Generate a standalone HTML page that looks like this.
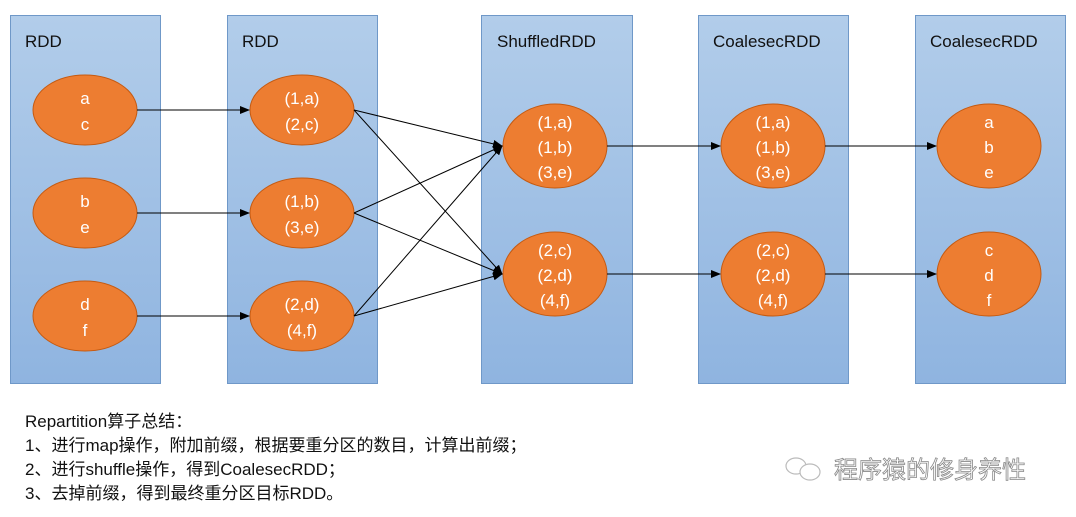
<!DOCTYPE html><html><head><meta charset="utf-8"><style>
body{margin:0;width:1076px;height:517px;background:#fff;overflow:hidden;font-family:"Liberation Sans","Noto Sans CJK SC",sans-serif}
.t{position:absolute;left:25px;font-size:17px;color:#111;line-height:24px}
</style></head><body>
<svg width="1076" height="517" style="position:absolute;left:0;top:0" font-family="Liberation Sans, Noto Sans CJK SC, sans-serif">
<defs><linearGradient id="g" x1="0" y1="0" x2="0" y2="1"><stop offset="0" stop-color="#b2cdea"/><stop offset="1" stop-color="#8fb4e0"/></linearGradient>
<marker id="a" markerWidth="10" markerHeight="8" refX="9" refY="4" orient="auto" markerUnits="userSpaceOnUse"><path d="M0,0L10,4L0,8z" fill="#000"/></marker></defs>
<g fill="url(#g)" stroke="#6f98c8" stroke-width="1">
<rect x="10.5" y="15.5" width="150" height="368"/><rect x="227.5" y="15.5" width="150" height="368"/><rect x="481.5" y="15.5" width="151" height="368"/><rect x="698.5" y="15.5" width="150" height="368"/><rect x="915.5" y="15.5" width="150" height="368"/></g>
<g font-size="17" fill="#111"><text x="25" y="47">RDD</text><text x="242" y="47">RDD</text><text x="497" y="47">ShuffledRDD</text><text x="713" y="47">CoalesecRDD</text><text x="930" y="47">CoalesecRDD</text></g>
<g fill="#ed7d31" stroke="#c55a11" stroke-width="1">
<ellipse cx="85" cy="110" rx="52" ry="35"/><ellipse cx="85" cy="213" rx="52" ry="35"/><ellipse cx="85" cy="316" rx="52" ry="35"/>
<ellipse cx="302" cy="110" rx="52" ry="35"/><ellipse cx="302" cy="213" rx="52" ry="35"/><ellipse cx="302" cy="316" rx="52" ry="35"/>
<ellipse cx="555" cy="146" rx="52" ry="42"/><ellipse cx="555" cy="274" rx="52" ry="42"/>
<ellipse cx="773" cy="146" rx="52" ry="42"/><ellipse cx="773" cy="274" rx="52" ry="42"/>
<ellipse cx="989" cy="146" rx="52" ry="42"/><ellipse cx="989" cy="274" rx="52" ry="42"/></g>
<g stroke="#000" stroke-width="1" marker-end="url(#a)">
<line x1="137" y1="110" x2="249" y2="110"/><line x1="137" y1="213" x2="249" y2="213"/><line x1="137" y1="316" x2="249" y2="316"/>
<line x1="354" y1="110" x2="502" y2="146"/><line x1="354" y1="110" x2="502" y2="274"/>
<line x1="354" y1="213" x2="502" y2="146"/><line x1="354" y1="213" x2="502" y2="274"/>
<line x1="354" y1="316" x2="502" y2="146"/><line x1="354" y1="316" x2="502" y2="274"/>
<line x1="607" y1="146" x2="720" y2="146"/><line x1="607" y1="274" x2="720" y2="274"/>
<line x1="825" y1="146" x2="936" y2="146"/><line x1="825" y1="274" x2="936" y2="274"/></g>
<g font-size="17" fill="#fff" text-anchor="middle">
<text x="85" y="104">a</text><text x="85" y="130">c</text>
<text x="85" y="207">b</text><text x="85" y="233">e</text>
<text x="85" y="310">d</text><text x="85" y="336">f</text>
<text x="302" y="104">(1,a)</text><text x="302" y="130">(2,c)</text>
<text x="302" y="207">(1,b)</text><text x="302" y="233">(3,e)</text>
<text x="302" y="310">(2,d)</text><text x="302" y="336">(4,f)</text>
<text x="555" y="128">(1,a)</text><text x="555" y="153">(1,b)</text><text x="555" y="178">(3,e)</text>
<text x="555" y="256">(2,c)</text><text x="555" y="281">(2,d)</text><text x="555" y="306">(4,f)</text>
<text x="773" y="128">(1,a)</text><text x="773" y="153">(1,b)</text><text x="773" y="178">(3,e)</text>
<text x="773" y="256">(2,c)</text><text x="773" y="281">(2,d)</text><text x="773" y="306">(4,f)</text>
<text x="989" y="128">a</text><text x="989" y="153">b</text><text x="989" y="178">e</text>
<text x="989" y="256">c</text><text x="989" y="281">d</text><text x="989" y="306">f</text></g>
<g fill="none" stroke="#bbb" stroke-width="1.2"><ellipse cx="796" cy="466" rx="10" ry="8"/><ellipse cx="810" cy="472" rx="10" ry="8" fill="#fff"/></g>
<text x="834" y="478" font-size="24" fill="#fff" stroke="#888" stroke-width="0.8">程序猿的修身养性</text>
</svg>
<div class="t" style="top:410px">Repartition算子总结：<br>1、进行map操作，附加前缀，根据要重分区的数目，计算出前缀；<br>2、进行shuffle操作，得到CoalesecRDD；<br>3、去掉前缀，得到最终重分区目标RDD。</div>
</body></html>
